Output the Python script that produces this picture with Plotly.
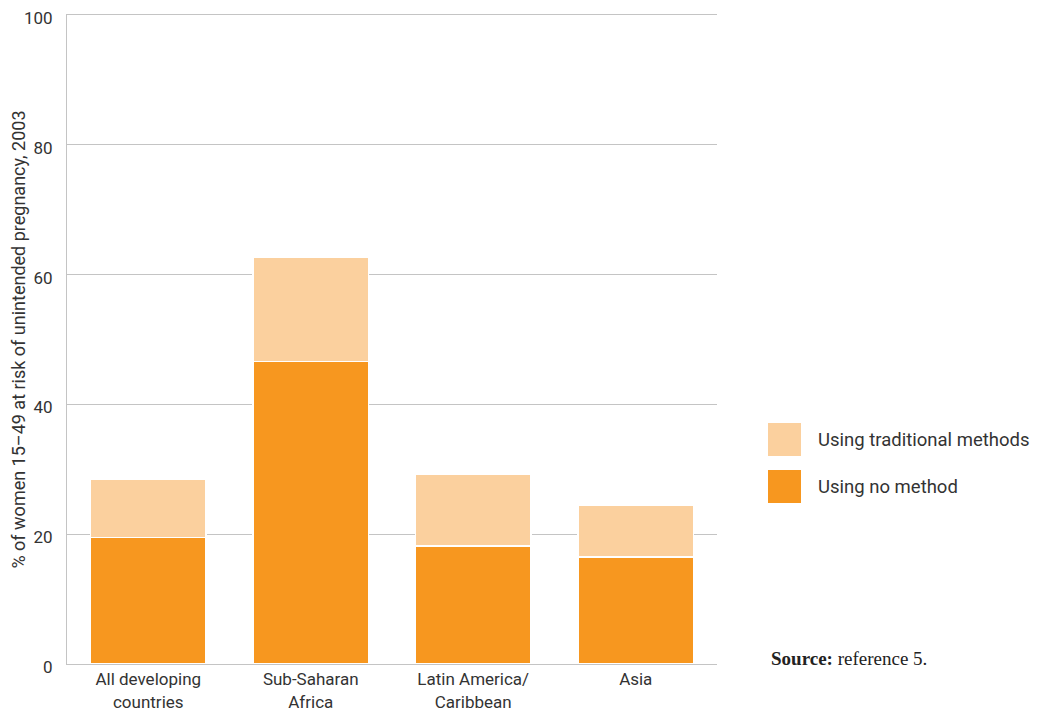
import plotly.graph_objects as go

categories = ["All developing<br>countries", "Sub-Saharan<br>Africa", "Latin America/<br>Caribbean", "Asia"]
no_method = [19.5, 46.6, 18.2, 16.5]
traditional = [9.0, 16.0, 11.0, 8.0]
series_names = ["Using no method", "Using traditional methods"]
y_ticks = [0, 20, 40, 60, 80, 100]

c_no = "#F7971F"
c_trad = "#FBD09E"
font_fam = "Roboto, Liberation Sans Narrow, Arial Narrow, sans-serif"
txt = "#333333"

# page body offset of the embedded figure (~8px)
OFF = 8
W, H = 1039 - OFF, 717 - OFF
L, R, T, B = 67 - OFF, 717 - OFF, 15 - OFF, 664 - OFF
PW, PH = R - L, B - T


def px(x):
    return (x - OFF - L) / PW


def py(y):
    return (B - (y - OFF)) / PH


fig = go.Figure()
fig.add_trace(go.Bar(x=categories, y=no_method, name=series_names[0],
                     marker=dict(color=c_no, line=dict(color="white", width=1.5))))
fig.add_trace(go.Bar(x=categories, y=traditional, name=series_names[1],
                     marker=dict(color=c_trad, line=dict(color="white", width=1.5))))

fig.update_layout(
    barmode="stack", bargap=0.29,
    width=W, height=H,
    margin=dict(l=L, r=W - R, t=T, b=H - B, pad=0),
    plot_bgcolor="white", paper_bgcolor="white",
    showlegend=False,
    font=dict(family=font_fam, color=txt, size=17),
)
fig.update_yaxes(range=[0, 100], tickvals=y_ticks, showgrid=True, gridcolor="#C4C4C4", gridwidth=1,
                 showline=True, linecolor="#C4C4C4", linewidth=1, zeroline=False, automargin=False,
                 ticklabeloverflow="allow", ticklabelshift=3,
                 tickfont=dict(size=17, color=txt), ticks="", ticklabelstandoff=10,
                 title=dict(text="% of women 15–49 at risk of unintended pregnancy, 2003",
                            font=dict(size=18, color=txt), standoff=10))
fig.update_xaxes(showline=True, linecolor="#C4C4C4", linewidth=1, ticks="", automargin=False,
                 mirror=True, tickfont=dict(size=17, color=txt))

# custom legend
legend_items = [(series_names[1], c_trad), (series_names[0], c_no)]
for i, (name, col) in enumerate(legend_items):
    y0 = 423 + i * 47
    fig.add_shape(type="rect", xref="paper", yref="paper",
                  x0=px(768), x1=px(801),
                  y0=py(y0 + 33), y1=py(y0),
                  fillcolor=col, line=dict(width=0))
    fig.add_annotation(xref="paper", yref="paper", x=px(816), y=py(y0 + 16.5),
                       text=name, showarrow=False, xanchor="left", yanchor="middle",
                       font=dict(size=18.5, color=txt, family=font_fam))

fig.add_annotation(xref="paper", yref="paper", x=px(769), y=py(658),
                   text="<b>Source:</b> reference 5.", showarrow=False, xanchor="left", yanchor="middle",
                   font=dict(size=19, color="#222222", family="Liberation Serif, DejaVu Serif, serif"))

fig.write_html("out.html")
